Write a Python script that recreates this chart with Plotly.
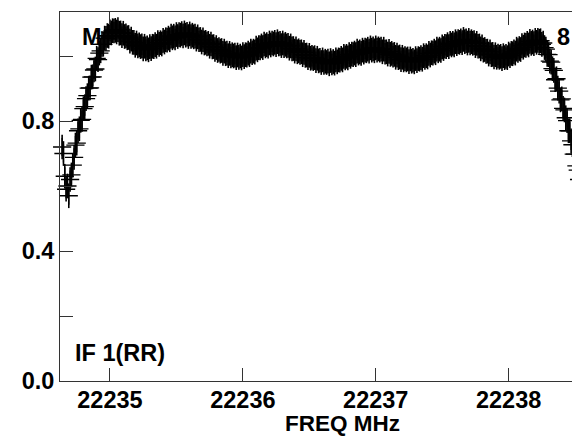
import plotly.graph_objects as go

# Channel frequencies (MHz): first channel and channel spacing
FREQ_START = 22234.64
CHAN_WIDTH = 0.01

# Bandpass amplitude per channel (22234.64 ... 22238.60 MHz)
amp = [
    0.720, 0.700, 0.630, 0.590, 0.600, 0.570, 0.620, 0.634, 0.664, 0.688,  # 34.64-34.73
    0.726, 0.732, 0.770, 0.776, 0.802, 0.805, 0.838, 0.844, 0.869, 0.878,  # 34.74-34.83
    0.901, 0.902, 0.935, 0.936, 0.957, 0.960, 0.993, 0.989, 1.009, 1.016,  # 34.84-34.93
    1.036, 1.036, 1.055, 1.054, 1.063, 1.061, 1.074, 1.071, 1.078, 1.077,  # 34.94-35.03
    1.079, 1.074, 1.081, 1.070, 1.071, 1.063, 1.070, 1.060, 1.062, 1.056,  # 35.04-35.13
    1.057, 1.046, 1.052, 1.042, 1.042, 1.033, 1.040, 1.031, 1.034, 1.029,  # 35.14-35.23
    1.031, 1.022, 1.030, 1.022, 1.025, 1.019, 1.029, 1.023, 1.030, 1.029,  # 35.24-35.33
    1.035, 1.030, 1.041, 1.036, 1.041, 1.037, 1.048, 1.043, 1.050, 1.049,  # 35.34-35.43
    1.055, 1.050, 1.061, 1.056, 1.061, 1.056, 1.066, 1.060, 1.066, 1.064,  # 35.44-35.53
    1.069, 1.062, 1.071, 1.064, 1.067, 1.060, 1.068, 1.060, 1.064, 1.059,  # 35.54-35.63
    1.061, 1.052, 1.059, 1.050, 1.051, 1.043, 1.050, 1.040, 1.042, 1.037,  # 35.64-35.73
    1.039, 1.030, 1.037, 1.028, 1.029, 1.020, 1.026, 1.017, 1.020, 1.015,  # 35.74-35.83
    1.017, 1.008, 1.015, 1.007, 1.009, 1.001, 1.008, 1.000, 1.004, 1.000,  # 35.84-35.93
    1.003, 0.995, 1.003, 0.996, 1.000, 0.994, 1.004, 0.998, 1.004, 1.003,  # 35.94-36.03
    1.009, 1.004, 1.015, 1.010, 1.015, 1.012, 1.024, 1.019, 1.026, 1.025,  # 36.04-36.13
    1.031, 1.026, 1.037, 1.031, 1.035, 1.030, 1.040, 1.034, 1.040, 1.037,  # 36.14-36.23
    1.042, 1.035, 1.044, 1.037, 1.039, 1.032, 1.040, 1.032, 1.036, 1.031,  # 36.24-36.33
    1.033, 1.024, 1.031, 1.022, 1.023, 1.015, 1.022, 1.013, 1.016, 1.011,  # 36.34-36.43
    1.013, 1.004, 1.011, 1.002, 1.003, 0.995, 1.002, 0.993, 0.996, 0.992,  # 36.44-36.53
    0.995, 0.986, 0.993, 0.985, 0.987, 0.980, 0.988, 0.980, 0.984, 0.980,  # 36.54-36.63
    0.984, 0.976, 0.986, 0.979, 0.983, 0.978, 0.988, 0.982, 0.988, 0.987,  # 36.64-36.73
    0.993, 0.988, 0.999, 0.994, 0.999, 0.994, 1.004, 0.999, 1.006, 1.004,  # 36.74-36.83
    1.009, 1.004, 1.015, 1.009, 1.013, 1.008, 1.018, 1.012, 1.018, 1.016,  # 36.84-36.93
    1.021, 1.015, 1.025, 1.018, 1.022, 1.016, 1.025, 1.018, 1.022, 1.018,  # 36.94-37.03
    1.021, 1.013, 1.021, 1.012, 1.013, 1.006, 1.014, 1.005, 1.008, 1.003,  # 37.04-37.13
    1.005, 0.996, 1.003, 0.995, 0.997, 0.989, 0.996, 0.988, 0.992, 0.988,  # 37.14-37.23
    0.991, 0.983, 0.991, 0.984, 0.987, 0.982, 0.992, 0.986, 0.992, 0.990,  # 37.24-37.33
    0.995, 0.990, 1.001, 0.996, 1.001, 0.997, 1.008, 1.003, 1.010, 1.009,  # 37.34-37.43
    1.015, 1.010, 1.021, 1.016, 1.021, 1.017, 1.028, 1.023, 1.030, 1.029,  # 37.44-37.53
    1.035, 1.029, 1.039, 1.034, 1.039, 1.034, 1.044, 1.038, 1.044, 1.042,  # 37.54-37.63
    1.047, 1.041, 1.051, 1.044, 1.047, 1.040, 1.048, 1.040, 1.044, 1.039,  # 37.64-37.73
    1.041, 1.032, 1.039, 1.030, 1.031, 1.022, 1.028, 1.018, 1.020, 1.014,  # 37.74-37.83
    1.015, 1.006, 1.013, 1.004, 1.005, 0.997, 1.004, 0.996, 1.000, 0.996,  # 37.84-37.93
    0.999, 0.992, 1.001, 0.995, 0.999, 0.995, 1.006, 1.001, 1.008, 1.007,  # 37.94-38.03
    1.013, 1.009, 1.021, 1.017, 1.023, 1.020, 1.032, 1.027, 1.034, 1.033,  # 38.04-38.13
    1.039, 1.034, 1.045, 1.039, 1.043, 1.038, 1.048, 1.042, 1.048, 1.045,  # 38.14-38.23
    1.047, 1.036, 1.040, 1.026, 1.021, 1.005, 1.004, 0.984, 0.981, 0.961,  # 38.24-38.33
    0.956, 0.927, 0.930, 0.901, 0.892, 0.865, 0.868, 0.839, 0.834, 0.810,  # 38.34-38.43
    0.801, 0.770, 0.770, 0.739, 0.727, 0.698, 0.698, 0.662, 0.649, 0.620,  # 38.44-38.53
    0.606, 0.572, 0.570, 0.541, 0.532, 0.505, 0.508,                       # 38.54-38.60
]

# Typical error (half length of each vertical bar)
ERR = 0.038

freq = [round(FREQ_START + CHAN_WIDTH * i, 4) for i in range(len(amp))]

x_ticks = [22235, 22236, 22237, 22238]
x_ticklabels = ["22235", "22236", "22237", "22238"]
y_ticks = [0.0, 0.2, 0.4, 0.6, 0.8, 1.0]
y_ticklabels = ["0.0", "", "0.4", "", "0.8", ""]

FONT = "Liberation Sans, Arial, sans-serif"
FS = 23.5

fig = go.Figure()
fig.add_trace(go.Scatter(
    x=freq, y=amp, mode="markers",
    marker=dict(symbol="cross-thin-open", size=13, color="black",
                line=dict(width=1.3, color="black")),
    error_y=dict(type="constant", value=ERR, visible=True, color="black",
                 thickness=1.6, width=0),
    cliponaxis=False,
    showlegend=False,
))

# The page body has an 8px default margin, so the figure is 8px smaller
fig.update_layout(
    width=572, height=428,
    margin=dict(l=52, r=0, t=4, b=55),
    paper_bgcolor="white", plot_bgcolor="white",
    font=dict(family=FONT, size=FS, color="black", weight="bold"),
    xaxis=dict(
        range=[22234.624, 22238.537], automargin=False,
        tickvals=x_ticks, ticktext=x_ticklabels,
        ticks="inside", ticklen=13, tickwidth=1, tickcolor="#333",
        ticklabelstandoff=-2,
        showline=True, linecolor="#333", linewidth=1, mirror="ticks",
        showgrid=False, zeroline=False,
        tickfont=dict(family=FONT, size=FS, color="black", weight="bold"),
    ),
    yaxis=dict(
        range=[0, 1.1354], automargin=False,
        tickvals=y_ticks, ticktext=y_ticklabels,
        ticks="inside", ticklen=13, tickwidth=1, tickcolor="#333",
        showline=True, linecolor="#333", linewidth=1, mirror=False,
        showgrid=False, zeroline=False,
        tickfont=dict(family=FONT, size=FS, color="black", weight="bold"),
    ),
)

ann_font = dict(family=FONT, size=FS, color="black", weight="bold")
fig.add_annotation(text="FREQ MHz", xref="paper", yref="paper",
                   x=0.544, y=-0.116, xanchor="center", yanchor="middle",
                   showarrow=False, borderpad=0,
                   font=dict(family=FONT, size=22.5, color="black", weight="bold"))
fig.add_annotation(text="IF 1(RR)", xref="paper", yref="paper",
                   x=0.025, y=0.076, xanchor="left", yanchor="middle",
                   showarrow=False, font=ann_font)
fig.add_annotation(text="M", xref="paper", yref="paper",
                   x=0.038, y=0.932, xanchor="left", yanchor="middle",
                   showarrow=False, font=ann_font)
fig.add_annotation(text="8", xref="paper", yref="paper",
                   x=0.952, y=0.932, xanchor="left", yanchor="middle",
                   showarrow=False, font=ann_font)

fig.write_html("out.html")
